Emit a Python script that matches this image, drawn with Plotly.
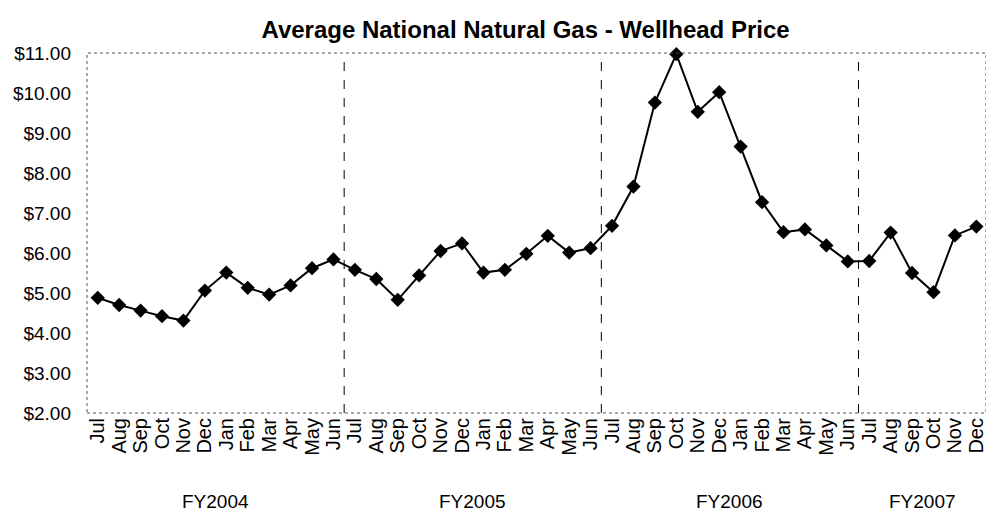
import plotly.graph_objects as go

# monthly wellhead price, Jul 2003 - Dec 2006
months = ['Jul', 'Aug', 'Sep', 'Oct', 'Nov', 'Dec',
          'Jan', 'Feb', 'Mar', 'Apr', 'May', 'Jun']
fy2004 = [4.88, 4.70, 4.56, 4.42, 4.31, 5.06, 5.51, 5.13, 4.96, 5.19, 5.62, 5.84]
fy2005 = [5.58, 5.35, 4.83, 5.44, 6.05, 6.24, 5.51, 5.58, 5.98, 6.43, 6.01, 6.12]
fy2006 = [6.68, 7.66, 9.76, 10.97, 9.53, 10.02, 8.66, 7.27, 6.52, 6.59, 6.19, 5.79]
fy2007 = [5.80, 6.51, 5.50, 5.02, 6.44, 6.66]
years = ['FY2004', 'FY2005', 'FY2006', 'FY2007']
y_ticks = [2, 3, 4, 5, 6, 7, 8, 9, 10, 11]

series = [fy2004, fy2005, fy2006, fy2007]
prices = [v for s in series for v in s]
labels = [months[i % 12] for i in range(len(prices))]
idx = list(range(len(prices)))

font = "Arial, Liberation Sans, sans-serif"

fig = go.Figure()
fig.add_trace(go.Scatter(
    x=idx, y=prices,
    mode='lines+markers',
    line=dict(color='black', width=2),
    marker=dict(symbol='diamond', size=11, color='black'),
    showlegend=False,
    cliponaxis=False
))

# dotted frame round the plot area
fig.add_shape(type='rect', xref='paper', yref='paper', x0=0, x1=1, y0=0, y1=1,
              line=dict(color='#555555', width=1, dash='dot'))

# dashed separators between fiscal years
start = 0
for s in series[:-1]:
    start += len(s)
    fig.add_shape(type='line', xref='x', yref='paper', x0=start - 0.5, x1=start - 0.5,
                  y0=0, y1=1, line=dict(color='black', width=1, dash='dash'))

# fiscal year labels under the month names
start = 0
for name, s in zip(years, series):
    center = start + (len(s) - 1) / 2
    fig.add_annotation(x=center, y=0, xref='x', yref='paper', text=name,
                       showarrow=False, yshift=-76, yanchor='top',
                       font=dict(size=19, color='black', family=font))
    start += len(s)

fig.update_layout(
    width=986, height=523,
    margin=dict(l=87, r=0, t=53, b=110),
    paper_bgcolor='white', plot_bgcolor='white',
    font=dict(family=font, color='black'),
    title=dict(text='<b>Average National Natural Gas - Wellhead Price</b>',
               x=0.533, xanchor='center', y=0.943, yanchor='middle',
               font=dict(size=24, family=font, color='black')),
    xaxis=dict(
        range=[-0.5, 41.45], automargin=False,
        tickmode='array', tickvals=idx, ticktext=labels,
        tickangle=-90, tickfont=dict(size=20),
        ticklabeloverflow='allow',
        showgrid=False, zeroline=False, showline=False, ticks='',
    ),
    yaxis=dict(
        range=[2, 11], automargin=False,
        tickmode='array', tickvals=y_ticks,
        ticktext=['$%.2f' % v for v in y_ticks],
        tickfont=dict(size=19),
        showgrid=False, zeroline=False, showline=False, ticks='',
        ticklabelstandoff=15,
    ),
)

# drop the page's default body margin so the figure sits at the window corner
fig.write_html("out.html", config={'displayModeBar': False},
               post_script="document.body.style.margin='0';")
